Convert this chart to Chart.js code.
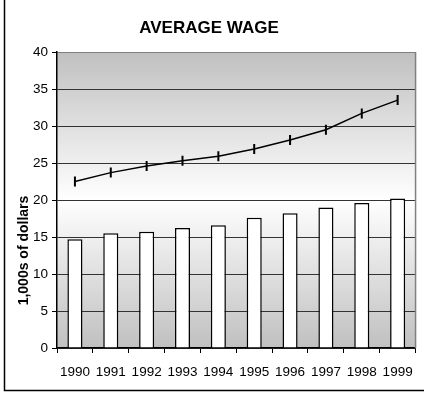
<!DOCTYPE html>
<html>
<head>
<meta charset="utf-8">
<script src="https://cdn.jsdelivr.net/npm/chart.js@4"></script>
<style>
html,body{margin:0;padding:0;background:#fff;}
#wrap{width:424px;height:393px;position:relative;}
</style>
</head>
<body>
<div id="wrap"><canvas id="c" width="424" height="393"></canvas></div>
<script>
const years = ['1990','1991','1992','1993','1994','1995','1996','1997','1998','1999'];
const barValues = [14.7, 15.5, 15.7, 16.2, 16.6, 17.6, 18.2, 19.0, 19.6, 20.2];
const lineValues = [22.5, 23.7, 24.6, 25.3, 25.9, 26.9, 28.1, 29.5, 31.7, 33.5];
const chartTitle = 'AVERAGE WAGE';
const yTitle = '1,000s of dollars';

const FONT = "'Liberation Sans', Arial, sans-serif";

const deco = {
  id: 'deco',
  beforeDraw(chart) {
    const {ctx, chartArea: a} = chart;
    ctx.save();
    const g = ctx.createLinearGradient(0, a.top, 0, a.bottom);
    g.addColorStop(0, '#c0c0c0');
    g.addColorStop(0.5, '#ffffff');
    g.addColorStop(1, '#c0c0c0');
    ctx.fillStyle = g;
    ctx.fillRect(a.left, a.top, a.right - a.left, a.bottom - a.top);
    ctx.restore();
  },
  afterDraw(chart) {
    const {ctx, chartArea: a} = chart;
    ctx.save();
    ctx.strokeStyle = '#808080';
    ctx.lineWidth = 1.5;
    ctx.beginPath();
    ctx.moveTo(a.right, a.top);
    ctx.lineTo(a.right, a.bottom);
    ctx.stroke();
    ctx.strokeStyle = '#000';
    ctx.lineWidth = 1.5;
    ctx.beginPath();
    ctx.moveTo(4.5, 0);
    ctx.lineTo(4.5, 390.5);
    ctx.lineTo(424, 390.5);
    ctx.stroke();
    ctx.translate(24.5, 250.5);
    ctx.rotate(-Math.PI / 2);
    ctx.fillStyle = '#000';
    ctx.font = 'bold 14px ' + FONT;
    ctx.textAlign = 'center';
    ctx.textBaseline = 'middle';
    ctx.fillText(yTitle, 0, 0);
    ctx.restore();
  }
};

new Chart(document.getElementById('c'), {
  data: {
    labels: years,
    datasets: [
      {
        type: 'line',
        data: lineValues,
        order: 0,
        borderColor: '#000',
        borderWidth: 1.5,
        tension: 0,
        fill: false,
        pointStyle: 'line',
        rotation: 90,
        pointRadius: 5,
        pointBorderWidth: 2,
        pointBorderColor: '#000',
        pointBackgroundColor: '#000'
      },
      {
        type: 'bar',
        data: barValues,
        order: 1,
        backgroundColor: '#ffffff',
        borderColor: '#000',
        borderWidth: 1.5,
        categoryPercentage: 1,
        barPercentage: 0.42
      }
    ]
  },
  options: {
    responsive: false,
    animation: false,
    layout: { padding: { top: 0, right: 6, bottom: 0, left: 0 } },
    plugins: {
      legend: { display: false },
      tooltip: { enabled: false },
      title: {
        display: true,
        text: chartTitle,
        color: '#000',
        font: { family: FONT, size: 17, weight: 'bold' },
        padding: { top: 18, bottom: 13.6 }
      }
    },
    scales: {
      x: {
        offset: true,
        grid: { offset: true, drawOnChartArea: false, drawTicks: true, tickLength: 5, color: '#000', lineWidth: 1 },
        border: { display: true, color: '#000', width: 1.5 },
        ticks: { color: '#000', font: { family: FONT, size: 13.5 }, padding: 11, maxRotation: 0, autoSkip: false },
        afterFit(s) { s.height = 45; }
      },
      y: {
        min: 0,
        max: 40,
        ticks: { stepSize: 5, color: '#000', font: { family: FONT, size: 13.5 }, padding: 4 },
        grid: {
          color: (c) => (c.tick && c.tick.value === 40 ? '#808080' : '#333333'),
          lineWidth: 1,
          tickLength: 5,
          tickColor: '#000'
        },
        border: { display: true, color: '#000', width: 1.5 },
        afterFit(s) { s.width = 57; }
      }
    }
  },
  plugins: [deco]
});
</script>
</body>
</html>
